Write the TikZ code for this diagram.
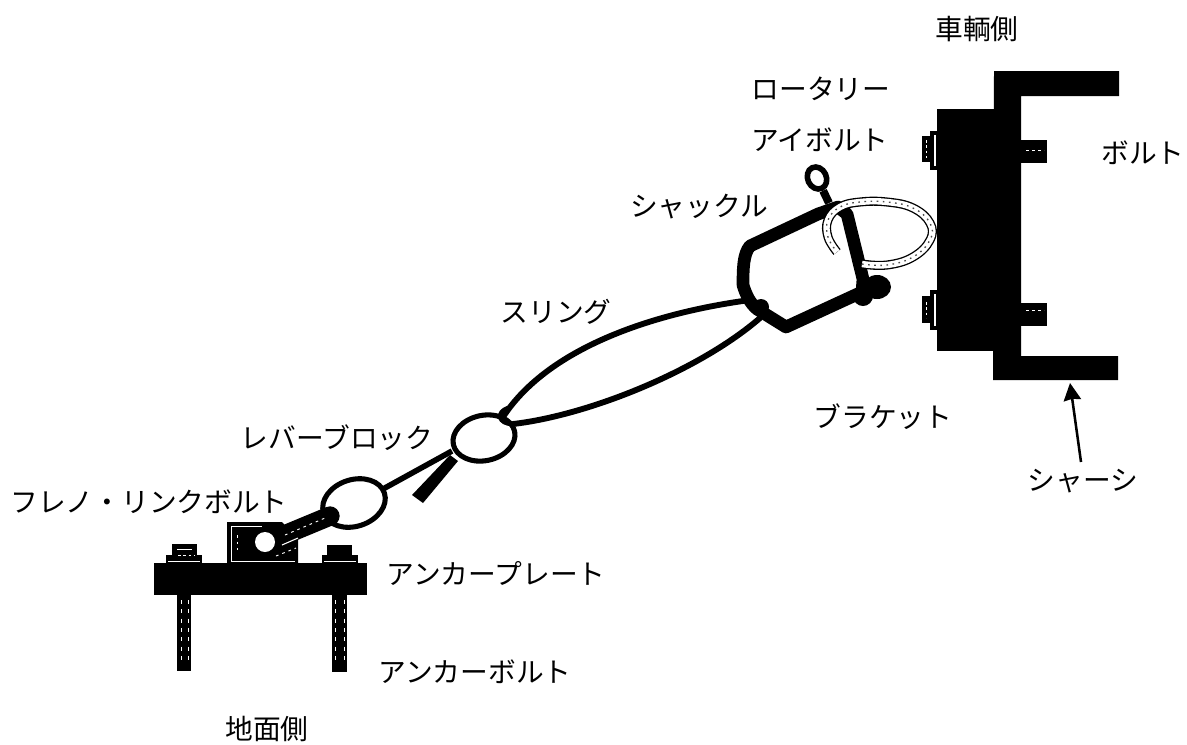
\documentclass[tikz,border=0pt]{standalone}
\usepackage{fontspec}
\setmainfont{Noto Sans CJK JP}
\usetikzlibrary{shapes.geometric,arrows.meta}
\tikzset{
  lab/.style={inner sep=0pt,font=\fontsize{20.8}{24}\selectfont,anchor=center,text=black},
  shacklebar/.style={line width=9.5pt,line cap=round,line join=round,draw=black},
  ringlink/.style={ellipse,draw=black,line width=3.8pt,inner sep=0pt,fill=none},
  sling/.style={line width=4.4pt,draw=black,line cap=round},
  speck/.style={line width=1pt,draw=black!70,dash pattern=on 1.2pt off 3.4pt},
}
\begin{document}
\begin{tikzpicture}[x=0.75pt,y=-0.75pt]
\useasboundingbox (0,0) rectangle (1187,744);
\fill[white] (0,0) rectangle (1187,744);

% ---- vehicle side: left bolts
\fill[black] (922,136) rectangle (931,162);
\fill[black] (930,131) rectangle (938,170);
\draw[white,line width=.8pt] (935,135) -- (935,166);
\draw[white,line width=.6pt,dash pattern=on 2pt off 2pt] (926,140) -- (926,158);
\fill[black] (922,296) rectangle (931,323);
\fill[black] (930,290) rectangle (938,330);
\draw[white,line width=.8pt] (935,294) -- (935,326);
\draw[white,line width=.6pt,dash pattern=on 2pt off 2pt] (926,302) -- (926,318);
% right bolts
\fill[black] (1020,140) rectangle (1047,163);
\fill[black] (1020,303) rectangle (1047,326);
\draw[white,line width=.6pt,dash pattern=on 2pt off 2.5pt] (1026,150) -- (1044,150);
\draw[white,line width=.6pt,dash pattern=on 2pt off 2.5pt] (1026,310) -- (1044,310);
% bracket and chassis
\fill[black] (937,109) rectangle (995,351);
\fill[black] (994,71) -- (1119,71) -- (1119,96) -- (1021,96) -- (1021,356) -- (1118,356) -- (1118,380) -- (993,380) -- cycle;

% ---- shackle
\node[ellipse,draw=black,line width=4.2pt,fill=white,minimum width=17pt,minimum height=14pt,inner sep=0pt,rotate=-65] (eye) at (817,178) {};
\coordinate (neck) at (829,203);
\draw[line width=6pt] (eye) -- (neck);
\draw[shacklebar] (863,279) -- (847,214) -- (838,207) -- (818,214) -- (750,246)
   .. controls (743,254) and (743,270) .. (743,285)
   .. controls (746,295) and (750,303) .. (757,309)
   -- (786,327) -- (862,292) -- cycle;
\fill[black] (877,287) ellipse [x radius=14,y radius=12];
\fill[black] (863,296) circle (10);
\fill[black] (761,307) circle (8);

% ---- white ring
\def\ringpts{(862,264)(887,265)(913,257)(930,240)(930,223)(913,208)(887,202)(860,202)(840,207)(828,220)(828,237)(837,252)}
\draw[line width=6.8pt,draw=black] plot[smooth,tension=.7] coordinates {\ringpts};
\draw[line width=4.8pt,draw=white] plot[smooth,tension=.7] coordinates {\ringpts};
\draw[speck] plot[smooth,tension=.7] coordinates {\ringpts};

% ---- sling and links
\coordinate (taila) at (452,451);
\coordinate (tailb) at (383,489);
\draw[line width=4.2pt] (taila) -- (tailb);
\fill[black] (458,461) -- (450,455) -- (412,495) -- (423,503) -- cycle;
\node[ringlink,minimum width=47pt,minimum height=34pt,rotate=12] (linkup) at (484,438) {};
\node[ringlink,minimum width=48pt,minimum height=35pt,rotate=18] (linklow) at (354,503) {};
\coordinate (slingA) at (750,300);
\coordinate (slingB) at (760,318);
\coordinate (knot) at (503,417);
\coordinate (knotB) at (513,424);
\draw[sling] (slingA) .. controls (660,312) and (550,345) .. (knot);
\draw[sling] (slingB) .. controls (700,370) and (590,415) .. (knotB);
\draw[line width=3.4pt] (508,408) .. controls (496,412) and (498,424) .. (513,424);

% ---- ground side
\fill[black] (177,594) rectangle (191,671);
\fill[black] (332,594) rectangle (347,672);
\draw[white,line width=.6pt,dash pattern=on 3pt off 4pt] (181,600) -- (181,664);
\draw[white,line width=.6pt,dash pattern=on 3pt off 4pt] (188,600) -- (188,664);
\draw[white,line width=.6pt,dash pattern=on 3pt off 4pt] (335,600) -- (335,664);
\draw[white,line width=.6pt,dash pattern=on 3pt off 4pt] (344,600) -- (344,664);
\fill[black] (154,563) rectangle (367,595);
\fill[black] (172,544) rectangle (197,556);
\fill[black] (166,555) rectangle (202,563);
\fill[black] (327,545) rectangle (352,556);
\fill[black] (322,555) rectangle (358,563);
\draw[white,line width=.6pt] (177,549) -- (192,549);
\draw[white,line width=.5pt] (168,561) -- (200,561);
\draw[white,line width=.5pt] (324,561) -- (356,561);
\draw[white,line width=.6pt,dash pattern=on 2pt off 2pt] (178,555) -- (195,555);
% block
\fill[black] (227,522) -- (282,522) -- (298,540) -- (298,563) -- (227,563) -- cycle;
\draw[white,line width=.7pt] (231,526) -- (231,561) -- (295,561);
\draw[white,line width=.7pt] (231,526) -- (262,526);
\draw[white,line width=.6pt,dash pattern=on 2pt off 3pt] (237,535) -- (237,550);
% bar
\coordinate (barEnd) at (330,516);
\coordinate (barStart) at (265,543);
\draw[black,line width=14.5pt,line cap=round] (barStart) -- (barEnd);
\draw[white,line width=.8pt] (282,545) -- (298,538);
\draw[white,line width=.7pt,dash pattern=on 2pt off 3pt] (285,535) -- (325,518);
\draw[white,line width=.7pt,dash pattern=on 2pt off 3pt] (276,556) -- (296,548);
\node[circle,fill=white,minimum size=15pt,inner sep=0pt] (hole) at (265,542) {};

% ---- labels
\node[lab] (t1) at (977,29) {車輌側};
\node[lab] (t2) at (821,89) {ロータリー};
\node[lab] (t3) at (820,140) {アイボルト};
\node[lab] (t4) at (1143,153) {ボルト};
\node[lab] (t5) at (699,207) {シャックル};
\node[lab] (t6) at (556,312) {スリング};
\node[lab] (t7) at (883,417) {ブラケット};
\node[lab] (t8) at (1083,481) {シャーシ};
\node[lab] (t9) at (337,438) {レバーブロック};
\node[lab] (t10) at (149,502) {フレノ・リンクボルト};
\node[lab] (t11) at (496,573) {アンカープレート};
\node[lab] (t12) at (475,672) {アンカーボルト};
\node[lab] (t13) at (267,729) {地面側};

% arrow to chassis
\coordinate (arrowtail) at (1081,462);
\coordinate (arrowtip) at (1070,383);
\draw[line width=1.9pt,-{Stealth[length=13pt,width=13pt,inset=1pt]}] (arrowtail) -- (arrowtip);
\end{tikzpicture}
\end{document}
